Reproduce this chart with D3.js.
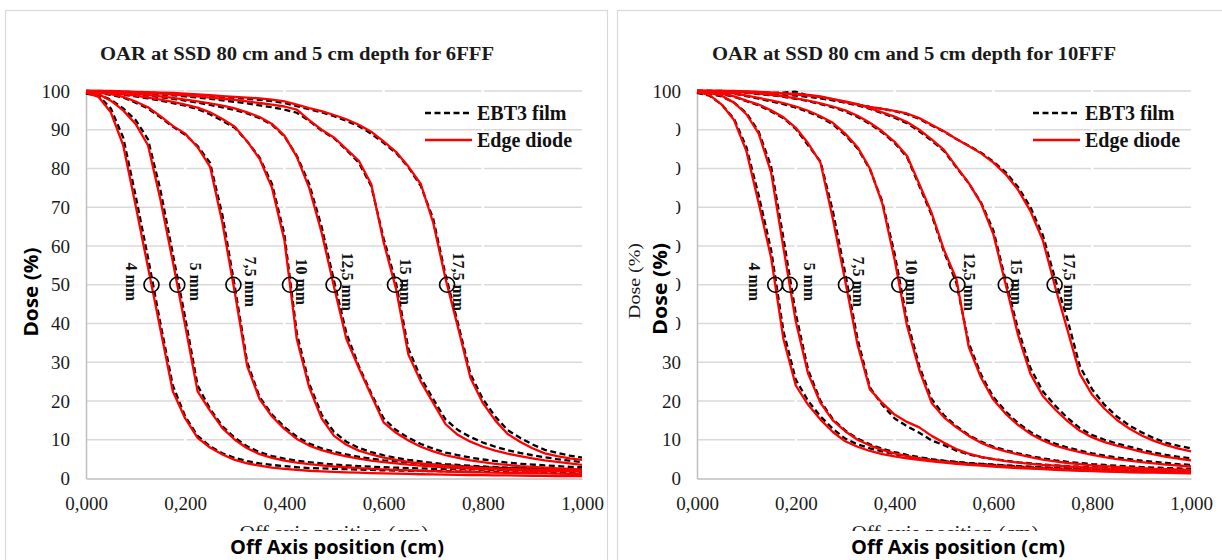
<!DOCTYPE html>
<html><head><meta charset="utf-8">
<script src="https://cdn.jsdelivr.net/npm/d3@7"></script>
<style>body{margin:0;background:#fff}svg{display:block}</style>
</head><body>
<svg id="chart" width="1222" height="560"></svg>
<script>
// ---------------- DATA ----------------
const offAxis = [0,0.025,0.05,0.075,0.1,0.125,0.15,0.175,0.2,0.225,0.25,0.275,0.3,0.325,0.35,0.375,0.4,0.425,0.45,0.475,0.5,0.525,0.55,0.575,0.6,0.625,0.65,0.675,0.7,0.725,0.75,0.775,0.8,0.825,0.85,0.875,0.9,0.925,0.95,0.975,1.0];
const fieldSizes = ["4 mm","5 mm","7,5 mm","10 mm","12,5 mm","15 mm","17,5 mm"];
const doseTicks = [0,10,20,30,40,50,60,70,80,90,100];
const offAxisTicks = [0,0.2,0.4,0.6,0.8,1.0];
const seriesNames = ["EBT3 film","Edge diode"];
const chartTitles = ["OAR at SSD 80 cm and 5 cm depth for 6FFF","OAR at SSD 80 cm and 5 cm depth for 10FFF"];

// 6FFF - Edge diode
const diode6_4   = [99.6,98.5,94.5,86,70.5,54.5,38.5,22.5,15.5,10.5, 8,6.2,4.8,3.9,3.3,2.8,2.5,2.2,2.0,1.85, 1.7,1.6,1.5,1.4,1.3,1.25,1.2,1.1,1.05,1.0, 0.95,0.9,0.85,0.8,0.8,0.75,0.7,0.7,0.65,0.6,0.6];
const diode6_5   = [99.7,99.2,97.5,95,91.5,86,72,56,39.5,22.5, 17.5,13,10,7.8,6.3,5.3,4.6,4.1,3.7,3.4, 3.1,2.9,2.7,2.5,2.35,2.2,2.1,2.0,1.9,1.8, 1.7,1.65,1.6,1.5,1.45,1.4,1.35,1.3,1.25,1.2,1.15];
const diode6_75  = [99.8,99.6,99.2,98.5,97.3,95.8,93.5,91,89,85.5, 80.5,66,48,29,20.5,16,12.8,10.2,8.5,7.3, 6.4,5.7,5.1,4.6,4.2,3.9,3.6,3.3,3.1,2.9, 2.7,2.55,2.4,2.3,2.2,2.1,2.0,1.95,1.9,1.85,1.8];
const diode6_10  = [99.8,99.7,99.5,99.2,98.8,98.3,97.8,97.2,96.5,95.7, 94.5,92.8,90.8,87,82.5,75,61.5,36,23.5,15.5, 11,8.7,7.2,6.2,5.4,4.8,4.3,3.9,3.6,3.3, 3.1,2.9,2.75,2.6,2.5,2.4,2.3,2.2,2.15,2.1,2.0];
const diode6_125 = [100,99.9,99.8,99.6,99.3,99,98.6,98.2,97.8,97.3, 96.8,96.2,95.5,94.5,93.3,91.5,88.5,83,75,63.5, 49.5,36,28.5,21.5,14.5,11.8,9.8,8.2,7,6, 5.3,4.7,4.2,3.8,3.5,3.2,3,2.8,2.6,2.45,2.3];
const diode6_15  = [100,100,99.9,99.8,99.7,99.5,99.3,99.1,98.9,98.6, 98.3,98,97.7,97.3,96.9,96.5,96,95.2,92.5,90, 88,85,82,76,61,49,32,25,19.5,14, 11.2,9.5,8.2,7.2,6.4,5.8,5.2,4.7,4.3,3.9,3.5];
const diode6_175 = [100,100,100,99.9,99.8,99.7,99.6,99.5,99.3,99.1, 98.9,98.7,98.5,98.3,98.1,97.8,97.3,96.5,95.6,94.8, 93.8,92.7,91.3,89.5,87,84.3,80.5,76,66,51.5, 39,26,19.5,15,11.5,9.5,7.8,6.5,5.8,5.2,4.8];

// 6FFF - EBT3 film
const film6_4   = [99.3,98.8,95.5,88,73,57,40,24,16,11, 8.3,6.5,5.3,4.5,3.9,3.5,3.2,2.9,2.7,2.6, 2.5,2.4,2.3,2.2,2.1,2.05,2,1.95,1.9,1.85, 1.8,1.75,1.7,1.65,1.6,1.55,1.5,1.45,1.4,1.35,1.3];
const film6_5   = [99.5,99,97.8,95.5,92.5,87.5,74.5,58,41.5,24, 18,13.5,10.5,8.3,6.8,5.8,5.1,4.6,4.2,3.9, 3.6,3.4,3.2,3.05,2.9,2.8,2.7,2.6,2.5,2.45, 2.4,2.35,2.3,2.25,2.2,2.15,2.1,2.05,2,1.95,1.9];
const film6_75  = [99.7,99.5,99,98.3,97,95.5,93.2,90.8,88.7,85.8, 81.5,68,49.5,30,21,16.5,13.3,10.8,9,7.8, 6.9,6.2,5.6,5.1,4.7,4.4,4.1,3.8,3.6,3.4, 3.2,3.05,2.9,2.8,2.7,2.6,2.5,2.45,2.4,2.35,2.3];
const film6_10  = [99.7,99.6,99.3,99,98.6,98.1,97.5,96.9,96.2,95.3, 94,92.3,90.5,87,82.8,76,63,37.5,24.5,16.5, 12,9.5,7.9,6.8,6,5.3,4.8,4.4,4,3.7, 3.5,3.3,3.1,2.95,2.8,2.7,2.6,2.5,2.45,2.4,2.35];
const film6_125 = [99.9,99.8,99.6,99.4,99.1,98.8,98.4,98,97.5,97, 96.4,95.8,95.1,94.2,93,91.3,88.3,83.3,76,65, 51,37.5,29,22,15.5,12.5,10.5,8.9,7.7,6.7, 6,5.4,4.9,4.5,4.1,3.8,3.6,3.4,3.2,3,2.9];
const film6_15  = [99.9,99.9,99.8,99.7,99.5,99.3,99.1,98.9,98.6,98.3, 98,97.6,97.2,96.8,96.3,95.8,95.2,94.4,92.3,89.8, 87.8,84.8,81.5,75.5,62,50.5,33.5,26,20.5,15.2, 12.5,10.7,9.3,8.2,7.3,6.6,6,5.5,5,4.6,4.2];
const film6_175 = [100,99.9,99.9,99.8,99.7,99.6,99.4,99.2,99,98.8, 98.6,98.4,98.2,98,97.7,97.4,96.9,96.1,95.3,94.5, 93.5,92.3,90.9,89,86.6,84,80.3,75.5,67,52.5, 40,27,20.5,16,12.5,10.5,8.8,7.4,6.6,5.9,5.4];

// 10FFF - Edge diode
const diode10_4   = [99.7,99,96.5,92.5,84.5,71,57,36,24,19, 15.2,12,9.6,8.2,7.1,6.3,5.7,5.2,4.8,4.4, 4.1,3.8,3.5,3.3,3.1,2.9,2.7,2.55,2.4,2.25, 2.1,2,1.9,1.8,1.7,1.6,1.55,1.5,1.45,1.4,1.35];
const diode10_5   = [99.8,99.5,98.8,97,94,89,79,59.5,40.5,27, 19.5,15,12.2,10,8.5,7.4,6.5,5.8,5.2,4.7, 4.3,4,3.7,3.5,3.3,3.1,2.9,2.75,2.6,2.45, 2.3,2.2,2.1,2,1.9,1.8,1.75,1.7,1.6,1.55,1.5];
const diode10_75  = [99.9,99.7,99.3,98.6,97.5,96.5,95,93.2,90.5,86.5, 81.5,67,51,34.5,23,19.5,16.5,14.6,13.2,11, 9.2,7.6,6.4,5.6,5,4.5,4.1,3.8,3.5,3.3, 3.1,2.9,2.75,2.6,2.5,2.4,2.3,2.2,2.15,2.1,2];
const diode10_10  = [100,99.9,99.7,99.4,98.8,98.2,97.6,96.9,96,94.9, 93.5,91.8,89,85.5,80,71,56.5,39.5,28,19.5, 15.8,13.2,11,9.2,7.9,7,6.2,5.5,4.9,4.4, 4,3.7,3.4,3.2,3,2.8,2.65,2.5,2.4,2.3,2.2];
const diode10_125 = [100,100,99.9,99.8,99.6,99.3,99,98.6,98.1,97.5, 96.8,96,95,93.6,91.8,89.6,86.9,83.3,76,68.5, 59,51.5,34,26,20.3,16.7,13.8,11.5,9.8,8.5, 7.6,6.8,6.1,5.5,5,4.6,4.2,3.9,3.6,3.35,3.1];
const diode10_15  = [100,100,100,99.9,99.8,99.7,99.5,99.3,99.1,98.8, 98.4,97.9,97.3,96.6,95.6,94.5,93.4,92,90,87.5, 84.8,80.5,76.3,71,63,50,37,27,21.3,17.8, 14.8,12.3,10.6,9.4,8.5,7.7,6.9,6.2,5.6,5.1,4.7];
const diode10_175 = [100,100,100,100,99.9,99.8,99.6,99.4,99.3,99, 98.6,97.9,97.1,96.5,95.9,95.4,94.9,94.2,93,91.3, 89.6,87.6,85.8,83.9,81.5,78.5,74.5,69,61.5,49.5, 38.3,27,21.6,18,15.1,12.9,11.1,9.7,8.6,7.7,7];

// 10FFF - EBT3 film
const film10_4   = [99.5,98.8,96.5,92.8,85.5,73,59,38,25.5,20, 16,12.8,10.3,8.8,7.8,7,6.3,5.7,5.2,4.8, 4.5,4.2,3.9,3.7,3.5,3.3,3.1,2.9,2.8,2.6, 2.5,2.4,2.3,2.2,2.1,2,1.9,1.85,1.8,1.75,1.7];
const film10_5   = [99.6,99.3,98.6,97,94.3,89.5,80.5,62,42.5,28, 20,15.3,12.4,10.3,8.8,7.7,6.8,6.1,5.5,5, 4.6,4.3,4,3.8,3.6,3.4,3.2,3.05,2.9,2.75, 2.6,2.5,2.4,2.3,2.2,2.1,2.05,2,1.9,1.85,1.8];
const film10_75  = [99.8,99.6,99.2,98.5,97.4,96.3,94.7,93,90.2,86, 81.8,69,53,36,23.5,19,15.5,13.5,11.8,9.8, 8.6,7.2,6.2,5.5,5,4.6,4.2,3.9,3.6,3.4, 3.2,3.05,2.9,2.8,2.7,2.6,2.5,2.4,2.35,2.3,2.25];
const film10_10  = [99.9,99.8,99.6,99.3,98.7,98,97.3,96.6,95.7,94.6, 93.2,91.4,88.6,85.2,79.8,71.5,58,41,29,20.5, 16.3,13.5,11.2,9.5,8.2,7.3,6.5,5.8,5.2,4.7, 4.3,4,3.7,3.5,3.3,3.1,2.95,2.8,2.7,2.6,2.5];
const film10_125 = [100,99.9,99.8,99.7,99.5,99.2,98.9,98.5,98,97.4, 96.6,95.8,94.7,93.3,91.5,89.3,86.6,83,75.5,68, 58.5,50.5,35,26.8,21,17.3,14.3,12,10.3,9, 8,7.2,6.5,5.9,5.4,5,4.6,4.3,4,3.7,3.5];
const film10_15  = [100,100,99.9,99.8,99.7,99.5,99.3,99.1,98.8,98.5, 98.1,97.6,97,96.3,95.4,94.3,93.1,91.7,89.6,87.2, 84.5,80.3,76.2,71.2,64,51,38.5,28.5,22.5,18.8, 15.6,13,11.2,10,9,8.2,7.4,6.7,6.1,5.6,5.2];
const film10_175 = [100,100,100,99.9,99.8,99.7,99.5,99.6,99.8,98.8, 98.3,97.7,97.1,96.5,95.9,95.4,94.8,94,92.8,91.1, 89.5,87.6,85.9,84.1,81.8,79,75.2,70,62.8,51.5, 41,29,23,19,16,13.7,11.9,10.4,9.2,8.4,7.8];

const panelsData = [
  {title: chartTitles[0],
   film:  [film6_4, film6_5, film6_75, film6_10, film6_125, film6_15, film6_175],
   diode: [diode6_4, diode6_5, diode6_75, diode6_10, diode6_125, diode6_15, diode6_175]},
  {title: chartTitles[1],
   film:  [film10_4, film10_5, film10_75, film10_10, film10_125, film10_15, film10_175],
   diode: [diode10_4, diode10_5, diode10_75, diode10_10, diode10_125, diode10_15, diode10_175]}
];

// ---------------- LAYOUT ----------------
const SERIF = "'Liberation Serif','Times New Roman',serif";
const SANS = "'Open Sans','Liberation Sans',sans-serif";
const layout = [
  {plotLeft:86, plotRight:582, frameX:5.5, frameW:602, titleX:297, titleLen:394,
   legendX:425, labelDx:[-25,13,12,6,8,5,5.5], xTitleX:337, ghostX:334, ghostLen:189},
  {plotLeft:697, plotRight:1191, frameX:617.5, frameW:620, titleX:914, titleLen:404,
   legendX:1033, labelDx:[-26,14,7,7,7,5,9], xTitleX:958, ghostX:945, ghostLen:187}
];
const plotTop = 91, plotBottom = 478.5;

const svg = d3.select("#chart");
svg.append("rect").attr("width",1222).attr("height",560).attr("fill","#fff");
svg.append("defs").append("clipPath").attr("id","ghostClip")
  .append("rect").attr("x",0).attr("y",500).attr("width",1222).attr("height",31);

const locale = d3.formatLocale({decimal:",", thousands:".", grouping:[3], currency:["",""]});
const fmtX = locale.format(".3f");

function halfPoint(vals){
  for (let i=1;i<vals.length;i++){
    if (vals[i-1] >= 50 && vals[i] < 50){
      const t = (vals[i-1]-50)/(vals[i-1]-vals[i]);
      return offAxis[i-1] + t*(offAxis[i]-offAxis[i-1]);
    }
  }
  return null;
}

panelsData.forEach((pd, p) => {
  const L = layout[p];
  const g = svg.append("g");
  g.append("rect").attr("x",L.frameX).attr("y",10.5).attr("width",L.frameW).attr("height",580)
    .attr("fill","#fff").attr("stroke","#d9d9d9").attr("stroke-width",1.2);

  const x = d3.scaleLinear().domain([0,1]).range([L.plotLeft, L.plotRight]);
  const y = d3.scaleLinear().domain([0,100]).range([plotBottom, plotTop]);

  g.append("text").attr("x",L.titleX).attr("y",60).attr("text-anchor","middle")
    .attr("font-family",SERIF).attr("font-weight","bold").attr("font-size",18)
    .attr("textLength",L.titleLen).attr("lengthAdjust","spacingAndGlyphs")
    .attr("fill","#1a1a1a").text(pd.title);

  g.append("g").selectAll("line").data(doseTicks.filter(d=>d>0)).join("line")
    .attr("x1",x(0)).attr("x2",x(1)).attr("y1",d=>y(d)).attr("y2",d=>y(d))
    .attr("stroke","#d9d9d9").attr("stroke-width",1.3);
  g.append("g").selectAll("line").data(offAxisTicks.filter(d=>d>0 && d<1)).join("line")
    .attr("x1",d=>x(d)).attr("x2",d=>x(d)).attr("y1",y(100)-2).attr("y2",y(0)-1)
    .attr("stroke","#fff").attr("stroke-width",2.5);

  const yAxis = g.append("g").attr("transform",`translate(${x(0)},0)`)
    .call(d3.axisLeft(y).tickValues(doseTicks).tickSize(0).tickPadding(16).tickSizeOuter(0));
  yAxis.select(".domain").attr("stroke","#bfbfbf").attr("stroke-width",1.5);
  yAxis.selectAll("text").attr("font-family",SERIF).attr("font-size",19).attr("fill","#1a1a1a");

  const xAxis = g.append("g").attr("transform",`translate(0,${y(0)})`)
    .call(d3.axisBottom(x).tickValues(offAxisTicks).tickFormat(fmtX).tickSize(0).tickPadding(18).tickSizeOuter(0));
  xAxis.select(".domain").attr("stroke","#bfbfbf").attr("stroke-width",1.5);
  xAxis.selectAll("text").attr("font-family",SERIF).attr("font-size",19).attr("fill","#1a1a1a");

  const line = d3.line().x((d,i)=>x(offAxis[i])).y(d=>y(d));

  g.append("g").selectAll("path").data(pd.film).join("path")
    .attr("d",line).attr("fill","none").attr("stroke","#000").attr("stroke-width",2.3)
    .attr("stroke-dasharray","6,3.5");
  g.append("g").selectAll("path").data(pd.diode).join("path")
    .attr("d",line).attr("fill","none").attr("stroke","#ff0000").attr("stroke-width",2.3)
    .attr("stroke-linejoin","round");

  const halves = pd.diode.map(halfPoint);
  g.append("g").selectAll("circle").data(halves).join("circle")
    .attr("cx",d=>x(d)).attr("cy",y(50)).attr("r",7.5)
    .attr("fill","none").attr("stroke","#000").attr("stroke-width",1.6);
  g.append("g").selectAll("text").data(fieldSizes).join("text")
    .attr("transform",(d,i)=>`translate(${x(halves[i])+L.labelDx[i]},${y(50)-3}) rotate(90)`)
    .attr("text-anchor","middle").attr("font-family",SERIF).attr("font-weight","bold")
    .attr("font-size",16).attr("fill","#111").text(d=>d);

  const lg = g.append("g");
  [113,140].forEach((ly,k)=>{
    lg.append("line").attr("x1",L.legendX).attr("x2",L.legendX+47).attr("y1",ly).attr("y2",ly)
      .attr("stroke",k===0?"#000":"#ff0000").attr("stroke-width",2.5)
      .attr("stroke-dasharray",k===0?"6,3.5":null);
    lg.append("text").attr("x",L.legendX+52).attr("y",ly+6.5)
      .attr("font-family",SERIF).attr("font-weight","bold").attr("font-size",20)
      .attr("fill","#111").text(seriesNames[k]);
  });

  g.append("text").attr("x",L.ghostX).attr("y",539).attr("text-anchor","middle")
    .attr("clip-path","url(#ghostClip)")
    .attr("font-family",SERIF).attr("font-size",19).attr("fill","#1a1a1a")
    .attr("textLength",L.ghostLen).attr("lengthAdjust","spacingAndGlyphs")
    .text("Off axis position (cm)");
  g.append("text").attr("x",L.xTitleX).attr("y",554).attr("text-anchor","middle")
    .attr("font-family",SANS).attr("font-weight","bold").attr("font-size",19)
    .attr("textLength",214).attr("lengthAdjust","spacingAndGlyphs")
    .attr("fill","#000").text("Off Axis position (cm)");
});

svg.append("text").attr("transform","translate(38,292) rotate(-90)").attr("text-anchor","middle")
  .attr("font-family",SANS).attr("font-weight","bold").attr("font-size",19)
  .attr("textLength",89).attr("lengthAdjust","spacingAndGlyphs").attr("fill","#000").text("Dose (%)");

// right panel: partly hidden tick labels and doubled axis titles
svg.append("rect").attr("x",620).attr("y",100).attr("width",56).attr("height",235).attr("fill","#fff");
svg.append("text").attr("transform","translate(640,281) rotate(-90)").attr("text-anchor","middle")
  .attr("font-family",SERIF).attr("font-size",17)
  .attr("textLength",76).attr("lengthAdjust","spacingAndGlyphs").attr("fill","#1a1a1a").text("Dose (%)");
svg.append("text").attr("transform","translate(667,289) rotate(-90)").attr("text-anchor","middle")
  .attr("font-family",SANS).attr("font-weight","bold").attr("font-size",19)
  .attr("textLength",92).attr("lengthAdjust","spacingAndGlyphs").attr("fill","#000").text("Dose (%)");
</script>
</body></html>
